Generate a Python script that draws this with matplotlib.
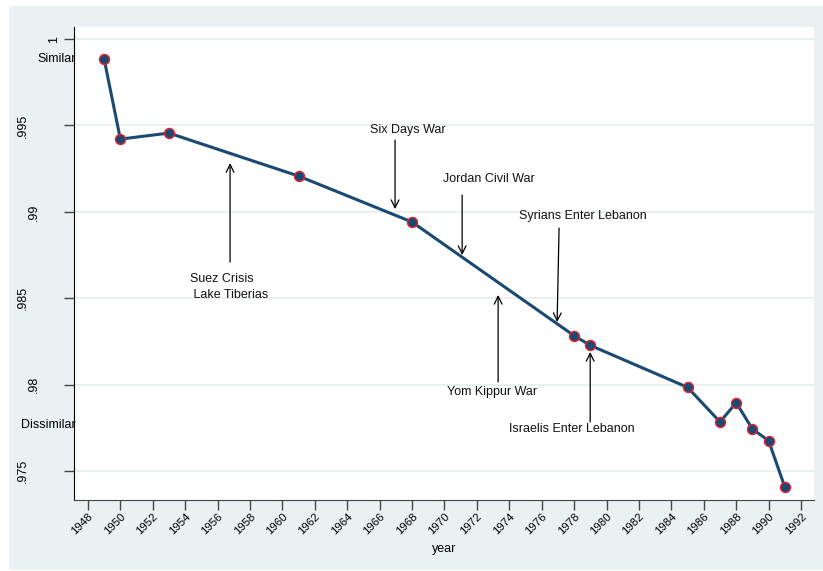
import numpy as np
import matplotlib
matplotlib.use("Agg")
import matplotlib.pyplot as plt
import matplotlib.transforms as mtransforms
from matplotlib.patches import Rectangle

plt.rcParams['font.family'] = ['Liberation Sans', 'DejaVu Sans']

# ------------------------------------
# Data
# ------------------------------------
years = [1949, 1950, 1953, 1961, 1968, 1978, 1979, 1985, 1987, 1988, 1989, 1990, 1991]
similarity = [0.99884, 0.99421, 0.99456, 0.99207, 0.98941, 0.98283, 0.98227,
              0.97984, 0.97784, 0.97895, 0.97743, 0.97675, 0.97407]

xticks = list(range(1948, 1993, 2))
yticks = [0.975, 0.98, 0.985, 0.99, 0.995, 1.0]
ytick_labels = [".975", ".98", ".985", ".99", ".995", "1"]

# events: label, text x, text y, arrow tail (x, y), arrow head (x, y)
events = [
    ("Six Days War", 1967.75, 0.99473, (1966.95, 0.99416), (1966.95, 0.99016)),
    ("Jordan Civil War", 1972.75, 0.99188, (1971.09, 0.99097), (1971.09, 0.98750)),
    ("Syrians Enter Lebanon", 1978.55, 0.98975, (1977.07, 0.98906), (1976.95, 0.98362)),
    ("Yom Kippur War", 1972.95, 0.97958, (1973.31, 0.98015), (1973.31, 0.98519)),
    ("Israelis Enter Lebanon", 1977.85, 0.97744, (1978.99, 0.97784), (1978.99, 0.98189)),
]
suez_label = "Suez Crisis\n Lake Tiberias"

# ------------------------------------
# Figure
# ------------------------------------
fig = plt.figure(figsize=(8.23, 5.71), dpi=100, facecolor="white")
bg = Rectangle((9 / 823, 1 / 571), 814 / 823, 564 / 571,
               transform=fig.transFigure, facecolor="#eaf1f3",
               edgecolor="none", zorder=-10)
fig.add_artist(bg)

ax = fig.add_axes([74 / 823, 71 / 571, 740 / 823, 473 / 571])
ax.set_zorder(1)
ax.set_facecolor("white")

ax.plot(years, similarity, color="#1a4a72", linewidth=2.2, zorder=3)
ax.plot(years, similarity, linestyle="none", marker="o", markersize=7.2,
        markerfacecolor="#1a4a72", markeredgecolor="#e8202a",
        markeredgewidth=1.0, zorder=4)

# event annotations
for label, tx, ty, tail, head in events:
    ax.text(tx, ty, label, fontsize=9, ha="center", va="center", color="#111111")
    ax.annotate("", xy=head, xytext=tail,
                arrowprops=dict(arrowstyle="->", color="black", lw=0.9,
                                mutation_scale=14, shrinkA=0, shrinkB=0))

ax.text(1954.3, 0.98566, suez_label, fontsize=9, ha="left", va="center",
        multialignment="left", linespacing=1.45, color="#111111")
ax.annotate("", xy=(1956.77, 0.99282), xytext=(1956.77, 0.98709),
            arrowprops=dict(arrowstyle="->", color="black", lw=0.9,
                            mutation_scale=14, shrinkA=0, shrinkB=0))

ax.set_xlim(1947.14, 1992.8)
ax.set_ylim(0.97332, 1.0007)

ax.set_xticks(xticks)
ax.set_xticklabels([str(x) for x in xticks], rotation=45, ha="right",
                   rotation_mode="anchor", fontsize=8.2)
ax.set_yticks(yticks)
ax.tick_params(axis="y", labelleft=False)
ax.tick_params(axis="both", direction="out", length=7, width=1, color="#444444")
ax.tick_params(axis="x", pad=1)

# y labels, Stata-like rotated placement (longer labels sit further left)
for val, lab in zip(yticks, ytick_labels):
    shift = -(10 + 10.2 * len(lab)) * 72 / 100
    trans = ax.get_yaxis_transform() + mtransforms.ScaledTranslation(
        shift / 72, 0, fig.dpi_scale_trans)
    ax.text(0, val, lab, transform=trans, rotation=90, fontsize=9,
            ha="center", va="center", clip_on=False)

ax.grid(axis="y", color="#e6edf0", linewidth=1.2)
ax.set_axisbelow(True)

for side in ["top", "right"]:
    ax.spines[side].set_visible(False)
ax.spines["left"].set_color("black")
ax.spines["bottom"].set_color("#444444")

ax.set_xlabel("year", fontsize=9, labelpad=5)

ax.text(1947.26, 0.99884, "Similar", fontsize=9, ha="right", va="center", clip_on=False)
ax.text(1947.26, 0.97766, "Dissimilar", fontsize=9, ha="right", va="center", clip_on=False)

fig.savefig("out.png", dpi=100, facecolor=fig.get_facecolor())
